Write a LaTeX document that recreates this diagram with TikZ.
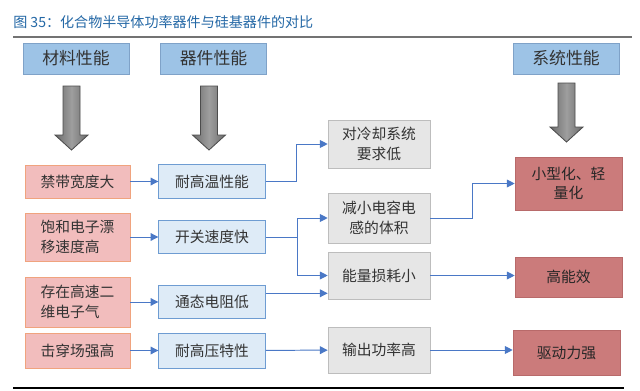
\documentclass[tikz,border=0pt]{standalone}
\usepackage{fontspec}
\newfontfamily\cjk{Noto Sans CJK SC}
\usetikzlibrary{arrows.meta, calc, positioning}
\definecolor{titel}{HTML}{2468A6}
\definecolor{kopffill}{HTML}{9DC3E6}
\definecolor{kopfrand}{HTML}{7FA2C8}
\definecolor{matfill}{HTML}{F2BDBD}
\definecolor{matrand}{HTML}{F0A37E}
\definecolor{bauffill}{HTML}{DEEBF7}
\definecolor{baurand}{HTML}{6E9CD2}
\definecolor{effill}{HTML}{E6E6E6}
\definecolor{efrand}{HTML}{BDBDBD}
\definecolor{sysfill}{HTML}{CB7B7B}
\definecolor{sysrand}{HTML}{B86A6A}
\definecolor{pfeil}{HTML}{4A78C6}
\newcommand\kastenfont{\cjk\fontsize{10.5}{14}\selectfont}

\begin{document}
\begin{tikzpicture}[x=0.025cm, y=-0.025cm,
    kopf/.style={draw=kopfrand, fill=kopffill, minimum width=2.65cm,
                 minimum height=0.775cm, inner sep=0pt, text=black!80,
                 font=\cjk\fontsize{12}{14}\selectfont},
    mat/.style={draw=matrand, fill=matfill, minimum width=2.625cm,
                inner sep=0pt, align=left, text=black!80, font=\kastenfont},
    bau/.style={draw=baurand, fill=bauffill, minimum width=2.675cm,
                inner sep=0pt, text=black!80, font=\kastenfont},
    eff/.style={draw=efrand, fill=effill, minimum width=2.55cm,
                inner sep=0pt, align=center, text=black!80, font=\kastenfont},
    sys/.style={draw=sysrand, fill=sysfill, minimum width=2.675cm,
                inner sep=0pt, align=center, text=black!85, font=\kastenfont},
    conn/.style={-{Triangle[length=5.5pt, width=5.5pt]}, pfeil, line width=0.7pt},
    dick/.style={draw=black!70, line width=0.6pt,
                 left color=black!58, right color=black!58, middle color=black!38},
    node distance=0.7cm
  ]
  \useasboundingbox[fill=white] (0,0) rectangle (640,390);

  % ── Titel ──
  \node[anchor=west, inner sep=0pt, text=titel,
        font=\cjk\fontsize{10}{12}\selectfont] (titel) at (13,22)
        {图 35：化合物半导体功率器件与硅基器件的对比};
  \draw[black!55, line width=1.1pt] (13,37) -- (632,37);
  \draw[black, line width=1.6pt] (13,388) -- (624,388);

  % ── Kopfzeile ──
  \node[kopf] (hmat) at (76,58.5)  {材料性能};
  \node[kopf] (hbau) at (213.5,58.5) {器件性能};
  \node[kopf] (hsys) at (566,58.5) {系统性能};

  \foreach \cx/\top/\base/\tip in {71.5/86/135/150, 209/86/135/150, 566.5/83/127/142}
    \draw[dick] ({\cx-8.5},\top) -- ({\cx+8.5},\top) -- ({\cx+8.5},\base)
      -- ({\cx+16.5},\base) -- (\cx,\tip) -- ({\cx-16.5},\base)
      -- ({\cx-8.5},\base) -- cycle;

  % ── Spalte 1: Materialeigenschaften ──
  \node[mat, minimum height=0.825cm] (m1) at (77.5,181.5) {禁带宽度大};
  \node[mat, minimum height=1.2cm]   (m2) at (77.5,237)   {饱和电子漂\\移速度高};
  \node[mat, minimum height=1.25cm]  (m3) at (77.5,302)   {存在高速二\\维电子气};
  \node[mat, minimum height=0.875cm] (m4) at (77.5,350.5) {击穿场强高};

  % ── Spalte 2: Bauelement ──
  \node[bau, minimum height=0.85cm,  right=of m1] (d1) {耐高温性能};
  \node[bau, minimum height=0.825cm, right=of m2] (d2) {开关速度快};
  \node[bau, minimum height=0.825cm, right=of m3] (d3) {通态电阻低};
  \node[bau, minimum height=0.875cm, right=of m4] (d4) {耐高压特性};

  \foreach \a/\b in {m1/d1, m2/d2, m3/d3, m4/d4}
    \draw[conn] (\a) -- (\b);

  % ── Spalte 3: Wirkung ──
  \node[eff, minimum height=1.2cm]   (e1) at (379,144)   {对冷却系统\\要求低};
  \node[eff, minimum height=1.25cm]  (e2) at (379,218)   {减小电容电\\感的体积};
  \node[eff, minimum height=1.175cm] (e3) at (379,275.5) {能量损耗小};
  \node[eff, minimum height=1.15cm]  (e4) at (379,350)   {输出功率高};

  % ── Spalte 4: System ──
  \node[sys, minimum height=1.325cm] (s1) at (568.5,183.5) {小型化、轻\\量化};
  \node[sys, minimum height=1.0cm]   (s2) at (568.5,277)   {高能效};
  \node[sys, minimum height=1.125cm] (s3) at (566.5,352.5) {驱动力强};

  % ── Verbindungen ──
  \draw[conn] (d1.east) -- ++(31,0) |- (e1.west);
  \draw (d2.east) ++(32,0) coordinate (knick);
  \draw[conn] (d2.east) -- (knick) |- (e2.west);
  \draw[conn] (knick) |- (e3.west);
  \coordinate (e3lo) at ($(e3.south west)+(0,-6)$);
  \draw[conn] (d3.east |- e3lo) -- (e3lo);
  \draw[conn] (d4) -- (e4);

  \draw[conn] (e2.east) -- ++(42,0) |- (s1.west);
  \draw[conn] (e3.east) -- (e3.east -| s2.west);
  \draw[conn] (e4.east) -- (e4.east -| s3.west);
\end{tikzpicture}
\end{document}
